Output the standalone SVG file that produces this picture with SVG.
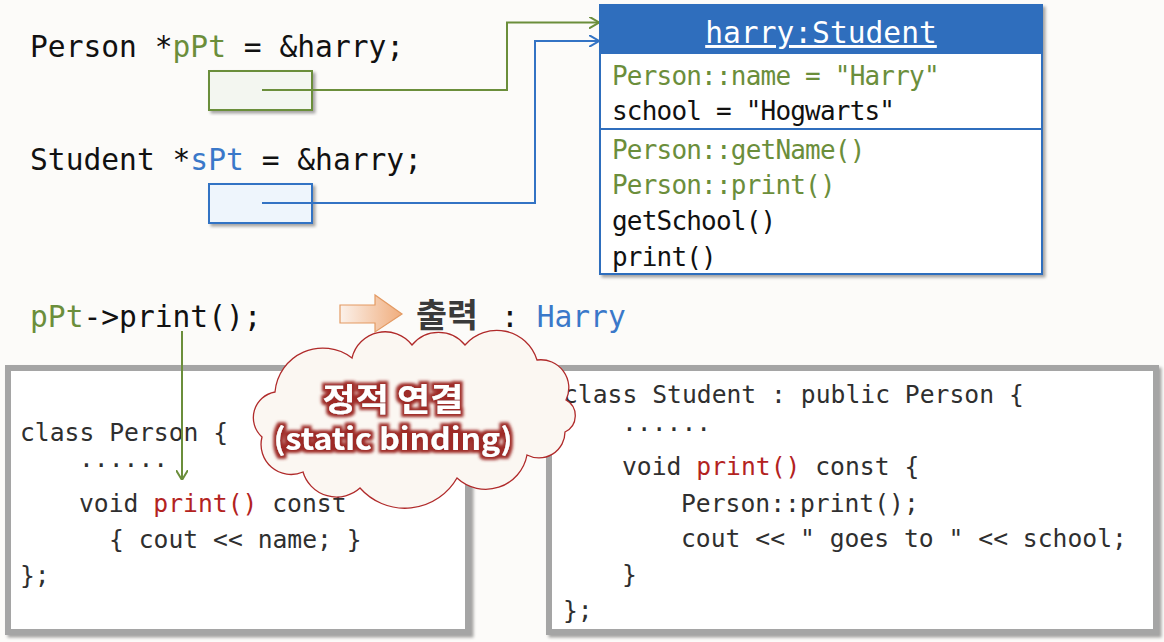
<svg xmlns="http://www.w3.org/2000/svg" width="1164" height="642" viewBox="0 0 1164 642">
<defs>
<style>
.mono{font-family:"DejaVu Sans Mono","Liberation Mono",monospace;}
.big{font-size:29.6px;fill:#111;}
.mem{font-size:26px;letter-spacing:-0.8px;fill:#111;}
.code{font-size:24.7px;fill:#2f2f2f;}
.g{fill:#6b8e3b;}
.b{fill:#3a78c9;}
.r{fill:#b3231f;}
.kr{font-family:"Noto Sans CJK KR","Noto Sans",sans-serif;}
</style>
<filter id="sh" x="-5%" y="-5%" width="115%" height="120%">
<feDropShadow dx="2.5" dy="2.5" stdDeviation="1.5" flood-color="#000" flood-opacity="0.35"/>
</filter>
<filter id="glow" x="-10%" y="-30%" width="120%" height="160%">
<feMorphology in="SourceAlpha" operator="dilate" radius="2.8" result="d"/>
<feGaussianBlur in="d" stdDeviation="1.6" result="bl"/>
<feFlood flood-color="#9e2b27"/>
<feComposite in2="bl" operator="in" result="gl"/>
<feMerge><feMergeNode in="gl"/><feMergeNode in="SourceGraphic"/></feMerge>
</filter>
<linearGradient id="og" x1="0" y1="0" x2="1" y2="0">
<stop offset="0" stop-color="#fbf1ea"/>
<stop offset="1" stop-color="#f0ad7d"/>
</linearGradient>
<marker id="ag" viewBox="0 0 10 12" refX="10" refY="6" markerWidth="10" markerHeight="12" markerUnits="userSpaceOnUse" orient="auto">
<path d="M0,0 L10,6 L0,12" fill="none" stroke="#6b8e3b" stroke-width="2"/>
</marker>
<marker id="ab" viewBox="0 0 10 12" refX="10" refY="6" markerWidth="10" markerHeight="12" markerUnits="userSpaceOnUse" orient="auto">
<path d="M0,0 L10,6 L0,12" fill="none" stroke="#3373c4" stroke-width="2"/>
</marker>
</defs>
<rect width="1164" height="642" fill="#fcfbf9"/>

<g id="decl-pPt">
<text class="mono big" x="30" y="57">Person *<tspan class="g">pPt</tspan> = &amp;harry;</text>
<rect x="209" y="71" width="103" height="39" fill="#f3f6f0" stroke="#6b8e3b" stroke-width="2" filter="url(#sh)"/>
</g>

<g id="decl-sPt">
<text class="mono big" x="30" y="170">Student *<tspan class="b">sPt</tspan> = &amp;harry;</text>
<rect x="209" y="184" width="103" height="39" fill="#eef5fc" stroke="#3373c4" stroke-width="2" filter="url(#sh)"/>
</g>

<g id="harry">
<rect x="600" y="5" width="442" height="269" fill="#fff" stroke="#2f6ebd" stroke-width="2" filter="url(#sh)"/>
<rect x="600" y="5" width="442" height="49" fill="#2f6ebd"/>
<line x1="600" y1="129" x2="1042" y2="129" stroke="#2f6ebd" stroke-width="2"/>
<text class="mono" x="821" y="43" font-size="29.6" fill="#fff" text-anchor="middle" text-decoration="underline">harry:Student</text>
<text class="mono mem" x="612" y="85"><tspan class="g">Person::name = "Harry"</tspan></text>
<text class="mono mem" x="612" y="120">school = "Hogwarts"</text>
<text class="mono mem" x="612" y="159"><tspan class="g">Person::getName()</tspan></text>
<text class="mono mem" x="612" y="194"><tspan class="g">Person::print()</tspan></text>
<text class="mono mem" x="612" y="230">getSchool()</text>
<text class="mono mem" x="612" y="266">print()</text>
</g>

<g id="call">
<text class="mono big" x="30" y="327"><tspan class="g">pPt</tspan>-&gt;print();</text>
</g>

<g id="output">
<path d="M340,305 H375 V295 L402,314 L375,332 V323 H340 Z" fill="url(#og)" stroke="#e39a63" stroke-width="1.2"/>
<text class="kr" x="416" y="327" font-size="33" font-weight="bold" fill="#3a3a3a" textLength="62" lengthAdjust="spacingAndGlyphs">출력</text>
<text class="mono big" x="501" y="327">: <tspan class="b">Harry</tspan></text>
</g>

<g id="person-class">
<rect x="8" y="368" width="460" height="264" fill="#fff" stroke="#a5a5a5" stroke-width="6" filter="url(#sh)"/>
<text class="mono code" x="20" y="441">class Person {</text>
<text class="mono code" x="79" y="467">......</text>
<text class="mono code" x="79" y="512">void <tspan class="r">print()</tspan> const</text>
<text class="mono code" x="109" y="548">{ cout &lt;&lt; name; }</text>
<text class="mono code" x="20" y="584">};</text>
</g>

<g id="student-class">
<rect x="549" y="368" width="607" height="264" fill="#fff" stroke="#a5a5a5" stroke-width="6" filter="url(#sh)"/>
<text class="mono code" x="563" y="403">class Student : public Person {</text>
<text class="mono code" x="622" y="431">......</text>
<text class="mono code" x="622" y="475">void <tspan class="r">print()</tspan> const {</text>
<text class="mono code" x="681" y="512">Person::print();</text>
<text class="mono code" x="681" y="547">cout &lt;&lt; " goes to " &lt;&lt; school;</text>
<text class="mono code" x="622" y="583">}</text>
<text class="mono code" x="563" y="619">};</text>
</g>

<g id="connectors" fill="none" stroke-width="2">
<path d="M262,90 H507 V22.5 H599" stroke="#6b8e3b" marker-end="url(#ag)"/>
<path d="M262,203 H535 V41 H599" stroke="#3373c4" marker-end="url(#ab)"/>
<path d="M182,331 V480" stroke="#6b8e3b" marker-end="url(#ag)"/>
</g>

<g id="cloud">
<path d="M262,437 A26,26 0 0 1 275,392 A48,48 0 0 1 352,358 A34,34 0 0 1 412,345 A34,34 0 0 1 465,345 A42,42 0 0 1 537,360 A28,28 0 0 1 566,400 A18,18 0 0 1 565,432 A26,26 0 0 1 527,455 A42,42 0 0 1 457,478 A60,60 0 0 1 360,488 A35,35 0 0 1 303,472 A30,30 0 0 1 262,437 Z" fill="#fbf7f2" stroke="#b02a2a" stroke-width="1.3"/>
<g class="kr" font-weight="bold" fill="#fff" text-anchor="middle" filter="url(#glow)">
<text x="393" y="411" font-size="32" textLength="141" lengthAdjust="spacingAndGlyphs">정적 연결</text>
<text x="393" y="450" font-size="30" textLength="239" lengthAdjust="spacingAndGlyphs">(static binding)</text>
</g>
</g>
</svg>
